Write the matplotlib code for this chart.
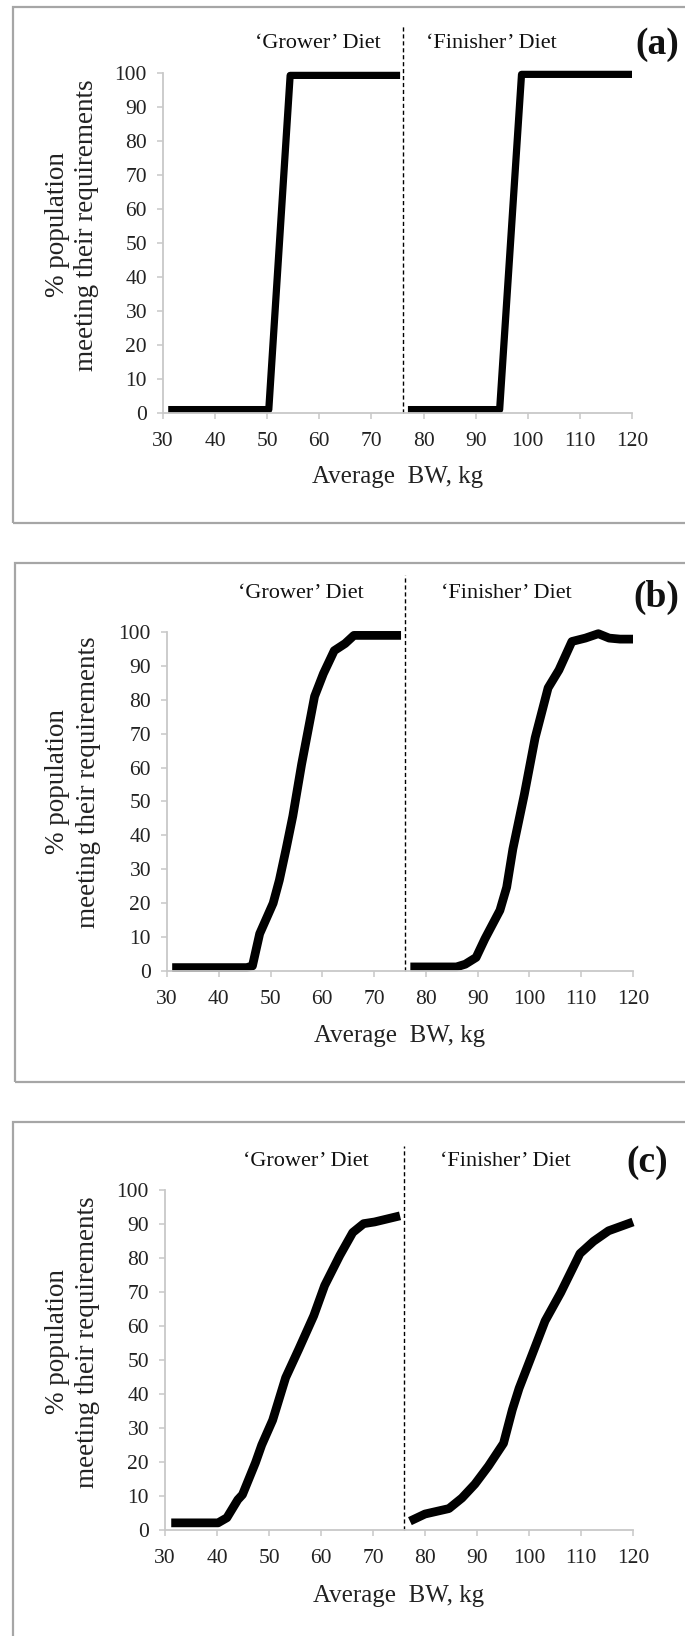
import matplotlib
matplotlib.use("Agg")
import matplotlib.pyplot as plt
from matplotlib.patches import Rectangle

W, H = 685, 1636
plt.rcParams['font.family'] = ['Liberation Serif', 'DejaVu Serif']

# ---- data: average body weight (kg) vs % of population meeting requirements ----
grower_a_bw = [31, 50.3, 54.4, 75.5]
grower_a_pct = [1, 1, 99.3, 99.3]
finisher_a_bw = [77, 94.6, 98.8, 120]
finisher_a_pct = [1, 1, 99.6, 99.6]

grower_b_bw = [31, 45.4, 46.5, 47.9, 50.5, 51.7, 53.0, 54.3, 56.0, 58.5, 60.2, 62.3, 64.4, 66.1, 75.2]
grower_b_pct = [1, 1, 1.5, 11, 20, 26.8, 36, 45.7, 61, 81, 87.7, 94.5, 96.6, 99, 99]
finisher_b_bw = [77, 85.9, 87.6, 89.7, 91.4, 94.3, 95.6, 96.8, 99.0, 101.1, 103.6, 105.7,
                 108.2, 110.8, 113.3, 115.4, 117.5, 120]
finisher_b_pct = [1.2, 1.2, 2, 4, 9.5, 17.9, 24.7, 36, 52, 68.8, 83.5, 88.8,
                  97.2, 98.2, 99.5, 98.2, 97.9, 97.9]

grower_c_bw = [31.2, 40.2, 41.9, 44.0, 44.9, 47.4, 48.6, 50.7, 53.2, 55.7, 58.6, 60.7,
               63.6, 66.1, 68.2, 70.3, 75.2]
grower_c_pct = [2.1, 2.1, 3.6, 8.9, 10.4, 19.8, 25, 32.3, 44.8, 53.1, 63, 71.9,
                80.7, 87.5, 90.1, 90.6, 92.4]
finisher_c_bw = [77.1, 80, 84.6, 87.1, 89.6, 92.2, 95.1, 96.8, 98.1, 100.2, 103.1, 106.1,
                 109.8, 112.4, 115.3, 120]
finisher_c_pct = [2.6, 4.7, 6.3, 9.4, 13.5, 18.8, 25.5, 35.4, 41.7, 50, 61.5, 69.8,
                  81.3, 84.9, 88, 90.6]

x_ticks = [30, 40, 50, 60, 70, 80, 90, 100, 110, 120]
y_ticks = [0, 10, 20, 30, 40, 50, 60, 70, 80, 90, 100]
panel_tags = ['(a)', '(b)', '(c)']
diet_names = ["\u2018Grower\u2019 Diet", "\u2018Finisher\u2019 Diet"]
divide_bw = 76

panels = [
    dict(series=[(grower_a_bw, grower_a_pct), (finisher_a_bw, finisher_a_pct)],
         ax_px=(163, 632, 73, 413), box=(13, 7, 700, 516), lw=5.2,
         grower_xy=(318, 43), finisher_xy=(491, 43), tag_xy=(657, 44),
         div_top=25, xlabel_y=477, ylab_x=(57, 87), ylab_y=225),
    dict(series=[(grower_b_bw, grower_b_pct), (finisher_b_bw, finisher_b_pct)],
         ax_px=(167, 633, 632, 971), box=(15, 563, 700, 519), lw=6.3,
         grower_xy=(301, 593), finisher_xy=(506, 593), tag_xy=(656, 597),
         div_top=575, xlabel_y=1036, ylab_x=(57, 89), ylab_y=782),
    dict(series=[(grower_c_bw, grower_c_pct), (finisher_c_bw, finisher_c_pct)],
         ax_px=(165, 633, 1190, 1530), box=(13, 1122, 700, 560), lw=6.3,
         grower_xy=(306, 1162), finisher_xy=(505, 1162), tag_xy=(647, 1162),
         div_top=1146, xlabel_y=1596, ylab_x=(57, 88), ylab_y=1342),
]

fig = plt.figure(figsize=(W / 100, H / 100), dpi=100)
fig.patch.set_facecolor('white')


def fx(x):
    return x / W


def fy(y):
    return 1 - y / H


for tag, p in zip(panel_tags, panels):
    bx, by, bw, bh = p['box']
    fig.patches.append(Rectangle((fx(bx), fy(by + bh)), bw / W, bh / H,
                                 transform=fig.transFigure, fill=False,
                                 edgecolor='#a6a6a6', linewidth=1.6))

    l, r, t, b = p['ax_px']
    ax = fig.add_axes([fx(l), fy(b), (r - l) / W, (b - t) / H])
    for bw_vals, pct_vals in p['series']:
        ax.plot(bw_vals, pct_vals, color='black', lw=p['lw'],
                solid_joinstyle='round', solid_capstyle='butt', clip_on=False)

    ax.set_xlim(30, 120)
    ax.set_ylim(0, 100)
    ax.set_xticks(x_ticks)
    ax.set_yticks(y_ticks)
    for s in ['top', 'right']:
        ax.spines[s].set_visible(False)
    for s in ['left', 'bottom']:
        ax.spines[s].set_color('#c8c8c8')
        ax.spines[s].set_linewidth(1.3)
    ax.tick_params(direction='out', length=4, width=1.1, color='#c8c8c8',
                   labelsize=15.5, labelcolor='#222222')
    ax.tick_params(axis='x', pad=9.5)
    ax.tick_params(axis='y', pad=7.5)
    ax.set_facecolor('none')

    # divider between the two feeding phases
    div_frac = (b - p['div_top']) / (b - t)
    ax.axvline(divide_bw, ymin=0, ymax=div_frac, color='black', lw=1.0,
               ls=(0, (3, 2)), clip_on=False)

    fig.text(fx(p['grower_xy'][0]), fy(p['grower_xy'][1]), diet_names[0],
             ha='center', va='center', fontsize=16, color='#111111')
    fig.text(fx(p['finisher_xy'][0]), fy(p['finisher_xy'][1]), diet_names[1],
             ha='center', va='center', fontsize=16, color='#111111')
    fig.text(fx(p['tag_xy'][0]), fy(p['tag_xy'][1]), tag,
             ha='center', va='center', fontsize=27, fontweight='bold', color='#111111')

    fig.text(fx((l + r) / 2), fy(p['xlabel_y']), 'Average  BW, kg',
             ha='center', va='center', fontsize=18, color='#222222')
    fig.text(fx(p['ylab_x'][0]), fy(p['ylab_y']), '% population',
             ha='center', va='center', rotation=90, fontsize=19.5, color='#222222')
    fig.text(fx(p['ylab_x'][1]), fy(p['ylab_y']), 'meeting their requirements',
             ha='center', va='center', rotation=90, fontsize=19.5, color='#222222')

fig.savefig('out.png', dpi=100, facecolor='white')
